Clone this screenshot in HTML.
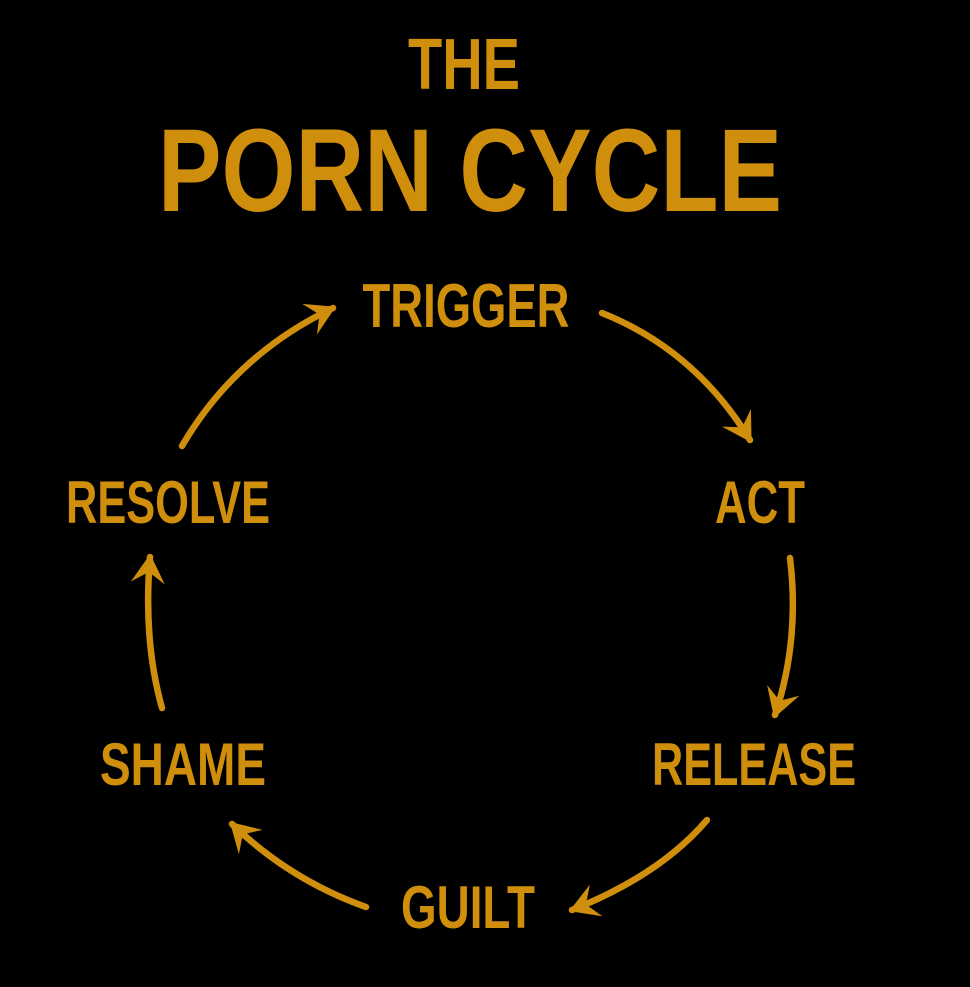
<!DOCTYPE html>
<html><head><meta charset="utf-8"><style>
html,body{margin:0;padding:0;background:#000;}
svg{display:block;}
text{font-family:"Liberation Sans Narrow","Liberation Sans",sans-serif;font-weight:bold;fill:#CF8E0C;text-anchor:middle;}
</style></head><body>
<svg width="970" height="987" viewBox="0 0 970 987" xmlns="http://www.w3.org/2000/svg">
<rect width="970" height="987" fill="#000"/>
<defs>
<marker id="ah" markerUnits="userSpaceOnUse" markerWidth="50" markerHeight="50" refX="0" refY="0" viewBox="-35 -25 50 50" orient="auto">
<path d="M3,0 L-26,-17 L-15,0 L-26,17 Z" fill="#CF8E0C"/>
</marker>
</defs>
<text x="464" y="89" font-size="72" textLength="112" lengthAdjust="spacingAndGlyphs">THE</text>
<text x="470" y="211" font-size="118" textLength="624" lengthAdjust="spacingAndGlyphs">PORN CYCLE</text>
<text x="466" y="327" font-size="62" textLength="207" lengthAdjust="spacingAndGlyphs">TRIGGER</text>
<text x="760" y="523" font-size="60" textLength="90" lengthAdjust="spacingAndGlyphs">ACT</text>
<text x="168" y="523" font-size="60" textLength="204" lengthAdjust="spacingAndGlyphs">RESOLVE</text>
<text x="183" y="785" font-size="60" textLength="166" lengthAdjust="spacingAndGlyphs">SHAME</text>
<text x="754" y="785" font-size="60" textLength="204" lengthAdjust="spacingAndGlyphs">RELEASE</text>
<text x="468" y="928" font-size="60" textLength="134" lengthAdjust="spacingAndGlyphs">GUILT</text>
<g fill="none" stroke="#CF8E0C" stroke-width="6.5" stroke-linecap="round">
<path d="M602,313 Q695,350 750,440" marker-end="url(#ah)"/>
<path d="M790,558 Q800,640 775,715" marker-end="url(#ah)"/>
<path d="M707,820 Q660,875 572,910" marker-end="url(#ah)"/>
<path d="M366,907 Q290,880 232,824" marker-end="url(#ah)"/>
<path d="M162,708 Q143,640 150,557" marker-end="url(#ah)"/>
<path d="M182,446 Q235,355 333,308" marker-end="url(#ah)"/>
</g>
</svg>
</body></html>
